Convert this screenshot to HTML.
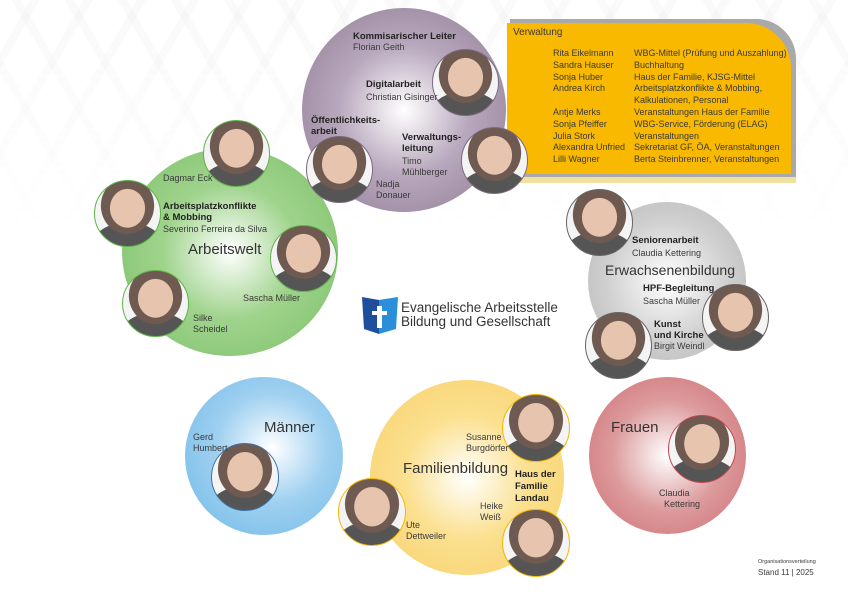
<!DOCTYPE html>
<html><head><meta charset="utf-8"><style>
body{margin:0;width:848px;height:600px;position:relative;overflow:hidden;background:#fff;font-family:"Liberation Sans","DejaVu Sans",sans-serif;color:#3a3a3a}
.bg{position:absolute;left:0;top:0;width:848px;height:240px;background:
repeating-linear-gradient(60deg,rgba(0,0,0,0) 0 38px,rgba(210,210,210,.12) 38px 46px),
repeating-linear-gradient(-60deg,rgba(0,0,0,0) 0 38px,rgba(210,210,210,.12) 38px 46px);
-webkit-mask-image:linear-gradient(#000,transparent);}
.c{position:absolute;border-radius:50%}
.p{position:absolute;border-radius:50%;background:radial-gradient(ellipse 38% 42% at 50% 42%,#e6c4ad 0 70%,transparent 72%),radial-gradient(ellipse 45% 48% at 50% 38%,#6e5a50 0 90%,transparent 92%),radial-gradient(ellipse 60% 40% at 50% 100%,#555 0 90%,transparent 92%),#f4f4f4;box-sizing:border-box;border:1.5px solid}
.t{position:absolute;font-size:9px;line-height:11px;white-space:nowrap}
.b{font-weight:bold;font-size:9.5px;color:#222}
.h{position:absolute;font-size:15px;color:#333;white-space:nowrap}
</style></head><body>
<div class="bg"></div>
<!-- purple -->
<div class="c" style="left:302px;top:8px;width:204px;height:204px;background:radial-gradient(circle at 50% 50%,#fff 0,#b8a8bd 45%,#8e7a91 100%)"></div>
<!-- verwaltung -->
<div style="position:absolute;left:510px;top:19px;width:286px;height:164px;background:#f1e0a0;border-radius:0 40px 0 0"></div>
<div style="position:absolute;left:510px;top:19px;width:286px;height:158px;background:#a9a9a9;border-radius:0 40px 0 0"></div>
<div style="position:absolute;left:507px;top:23px;width:284px;height:151px;background:#f8b900;border-radius:0 45px 0 0"></div>
<div class="t" style="left:513px;top:27px;font-size:10px">Verwaltung</div>
<div class="t" style="left:553px;top:48px;line-height:11.8px">Rita Eikelmann<br>Sandra Hauser<br>Sonja Huber<br>Andrea Kirch<br><br>Antje Merks<br>Sonja Pfeiffer<br>Julia Stork<br>Alexandra Unfried<br>Lilli Wagner</div>
<div class="t" style="left:634px;top:48px;line-height:11.8px">WBG-Mittel (Prüfung und Auszahlung)<br>Buchhaltung<br>Haus der Familie, KJSG-Mittel<br>Arbeitsplatzkonflikte &amp; Mobbing,<br>Kalkulationen, Personal<br>Veranstaltungen Haus der Familie<br>WBG-Service, Förderung (ELAG)<br>Veranstaltungen<br>Sekretariat GF, ÖA, Veranstaltungen<br>Berta Steinbrenner, Veranstaltungen</div>
<!-- green -->
<div class="c" style="left:122px;top:148px;width:216px;height:208px;background:radial-gradient(circle at 50% 50%,#fff 0,#9fd38c 45%,#7cc069 100%)"></div>
<!-- grey -->
<div class="c" style="left:588px;top:202px;width:158px;height:158px;background:radial-gradient(circle at 50% 50%,#fff 0,#cfcfcf 55%,#b6b6b6 100%)"></div>
<!-- blue -->
<div class="c" style="left:185px;top:377px;width:158px;height:158px;background:radial-gradient(circle at 55% 45%,#fff 0,#9fd0f0 45%,#6cb8e6 100%)"></div>
<!-- yellow -->
<div class="c" style="left:370px;top:380px;width:194px;height:195px;background:radial-gradient(circle at 50% 50%,#fff 0,#fbe08f 45%,#f8d06a 100%)"></div>
<!-- red -->
<div class="c" style="left:589px;top:377px;width:157px;height:157px;background:radial-gradient(circle at 50% 50%,#fff 0,#dc9a9c 50%,#cf6e72 100%)"></div>

<!-- photos -->
<div class="p" style="left:432px;top:49px;width:67px;height:67px;border-color:#7c6a80"></div>
<div class="p" style="left:306px;top:136px;width:67px;height:67px;border-color:#7c6a80"></div>
<div class="p" style="left:461px;top:127px;width:67px;height:67px;border-color:#7c6a80"></div>
<div class="p" style="left:203px;top:120px;width:67px;height:67px;border-color:#5fb34a"></div>
<div class="p" style="left:94px;top:180px;width:67px;height:67px;border-color:#5fb34a"></div>
<div class="p" style="left:270px;top:225px;width:67px;height:67px;border-color:#5fb34a"></div>
<div class="p" style="left:122px;top:270px;width:67px;height:67px;border-color:#5fb34a"></div>
<div class="p" style="left:566px;top:189px;width:67px;height:67px;border-color:#666"></div>
<div class="p" style="left:702px;top:284px;width:67px;height:67px;border-color:#666"></div>
<div class="p" style="left:585px;top:312px;width:67px;height:67px;border-color:#666"></div>
<div class="p" style="left:211px;top:443px;width:68px;height:68px;border-color:#3b72a8"></div>
<div class="p" style="left:502px;top:394px;width:68px;height:68px;border-color:#f3b800"></div>
<div class="p" style="left:338px;top:478px;width:68px;height:68px;border-color:#f3b800"></div>
<div class="p" style="left:502px;top:509px;width:68px;height:68px;border-color:#f3b800"></div>
<div class="p" style="left:668px;top:415px;width:68px;height:68px;border-color:#c4474c"></div>

<!-- purple texts -->
<div class="t b" style="left:353px;top:31px">Kommisarischer Leiter</div>
<div class="t" style="left:353px;top:42px">Florian Geith</div>
<div class="t b" style="left:366px;top:79px">Digitalarbeit</div>
<div class="t" style="left:366px;top:92px">Christian Gisinger</div>
<div class="t b" style="left:311px;top:115px">Öffentlichkeits-<br>arbeit</div>
<div class="t b" style="left:402px;top:132px">Verwaltungs-<br>leitung</div>
<div class="t" style="left:402px;top:156px">Timo<br>Mühlberger</div>
<div class="t" style="left:376px;top:179px">Nadja<br>Donauer</div>
<!-- green texts -->
<div class="t" style="left:163px;top:173px">Dagmar Eck</div>
<div class="t b" style="left:163px;top:201px">Arbeitsplatzkonflikte<br>&amp; Mobbing</div>
<div class="t" style="left:163px;top:224px">Severino Ferreira da Silva</div>
<div class="h" style="left:188px;top:241px">Arbeitswelt</div>
<div class="t" style="left:243px;top:293px">Sascha Müller</div>
<div class="t" style="left:193px;top:313px">Silke<br>Scheidel</div>
<!-- logo -->
<svg style="position:absolute;left:361px;top:296px" width="38" height="40" viewBox="0 0 38 40"><path d="M1 1 L18 4 L18 38 L3 33 Z" fill="#1f4f9c"/><path d="M18 4 L37 1 L35 33 L18 38 Z" fill="#2a8fd8"/><rect x="16" y="10" width="5" height="22" fill="#fff"/><rect x="11" y="15" width="15" height="4" fill="#fff"/></svg>
<div class="t" style="left:401px;top:301px;font-size:13.5px;line-height:14px;color:#333">Evangelische Arbeitsstelle<br>Bildung und Gesellschaft</div>
<!-- grey texts -->
<div class="t b" style="left:632px;top:235px">Seniorenarbeit</div>
<div class="t" style="left:632px;top:248px">Claudia Kettering</div>
<div class="h" style="left:605px;top:262px;font-size:14px">Erwachsenenbildung</div>
<div class="t b" style="left:643px;top:283px">HPF-Begleitung</div>
<div class="t" style="left:643px;top:296px">Sascha Müller</div>
<div class="t b" style="left:654px;top:319px">Kunst<br>und Kirche</div>
<div class="t" style="left:654px;top:341px">Birgit Weindl</div>
<!-- blue -->
<div class="h" style="left:264px;top:419px">Männer</div>
<div class="t" style="left:193px;top:432px">Gerd<br>Humbert</div>
<!-- yellow -->
<div class="t" style="left:466px;top:432px">Susanne<br>Burgdörfer</div>
<div class="h" style="left:403px;top:460px">Familienbildung</div>
<div class="t b" style="left:515px;top:469px;line-height:12px">Haus der<br>Familie<br>Landau</div>
<div class="t" style="left:480px;top:501px">Heike<br>Weiß</div>
<div class="t" style="left:406px;top:520px">Ute<br>Dettweiler</div>
<!-- red -->
<div class="h" style="left:611px;top:419px">Frauen</div>
<div class="t" style="left:659px;top:488px">Claudia<br>&nbsp;&nbsp;Kettering</div>
<!-- footer -->
<div class="t" style="left:758px;top:559px;font-size:5.5px;line-height:7px">Organisationsverteilung</div>
<div class="t" style="left:758px;top:567px;font-size:8px">Stand 11 | 2025</div>
</body></html>
